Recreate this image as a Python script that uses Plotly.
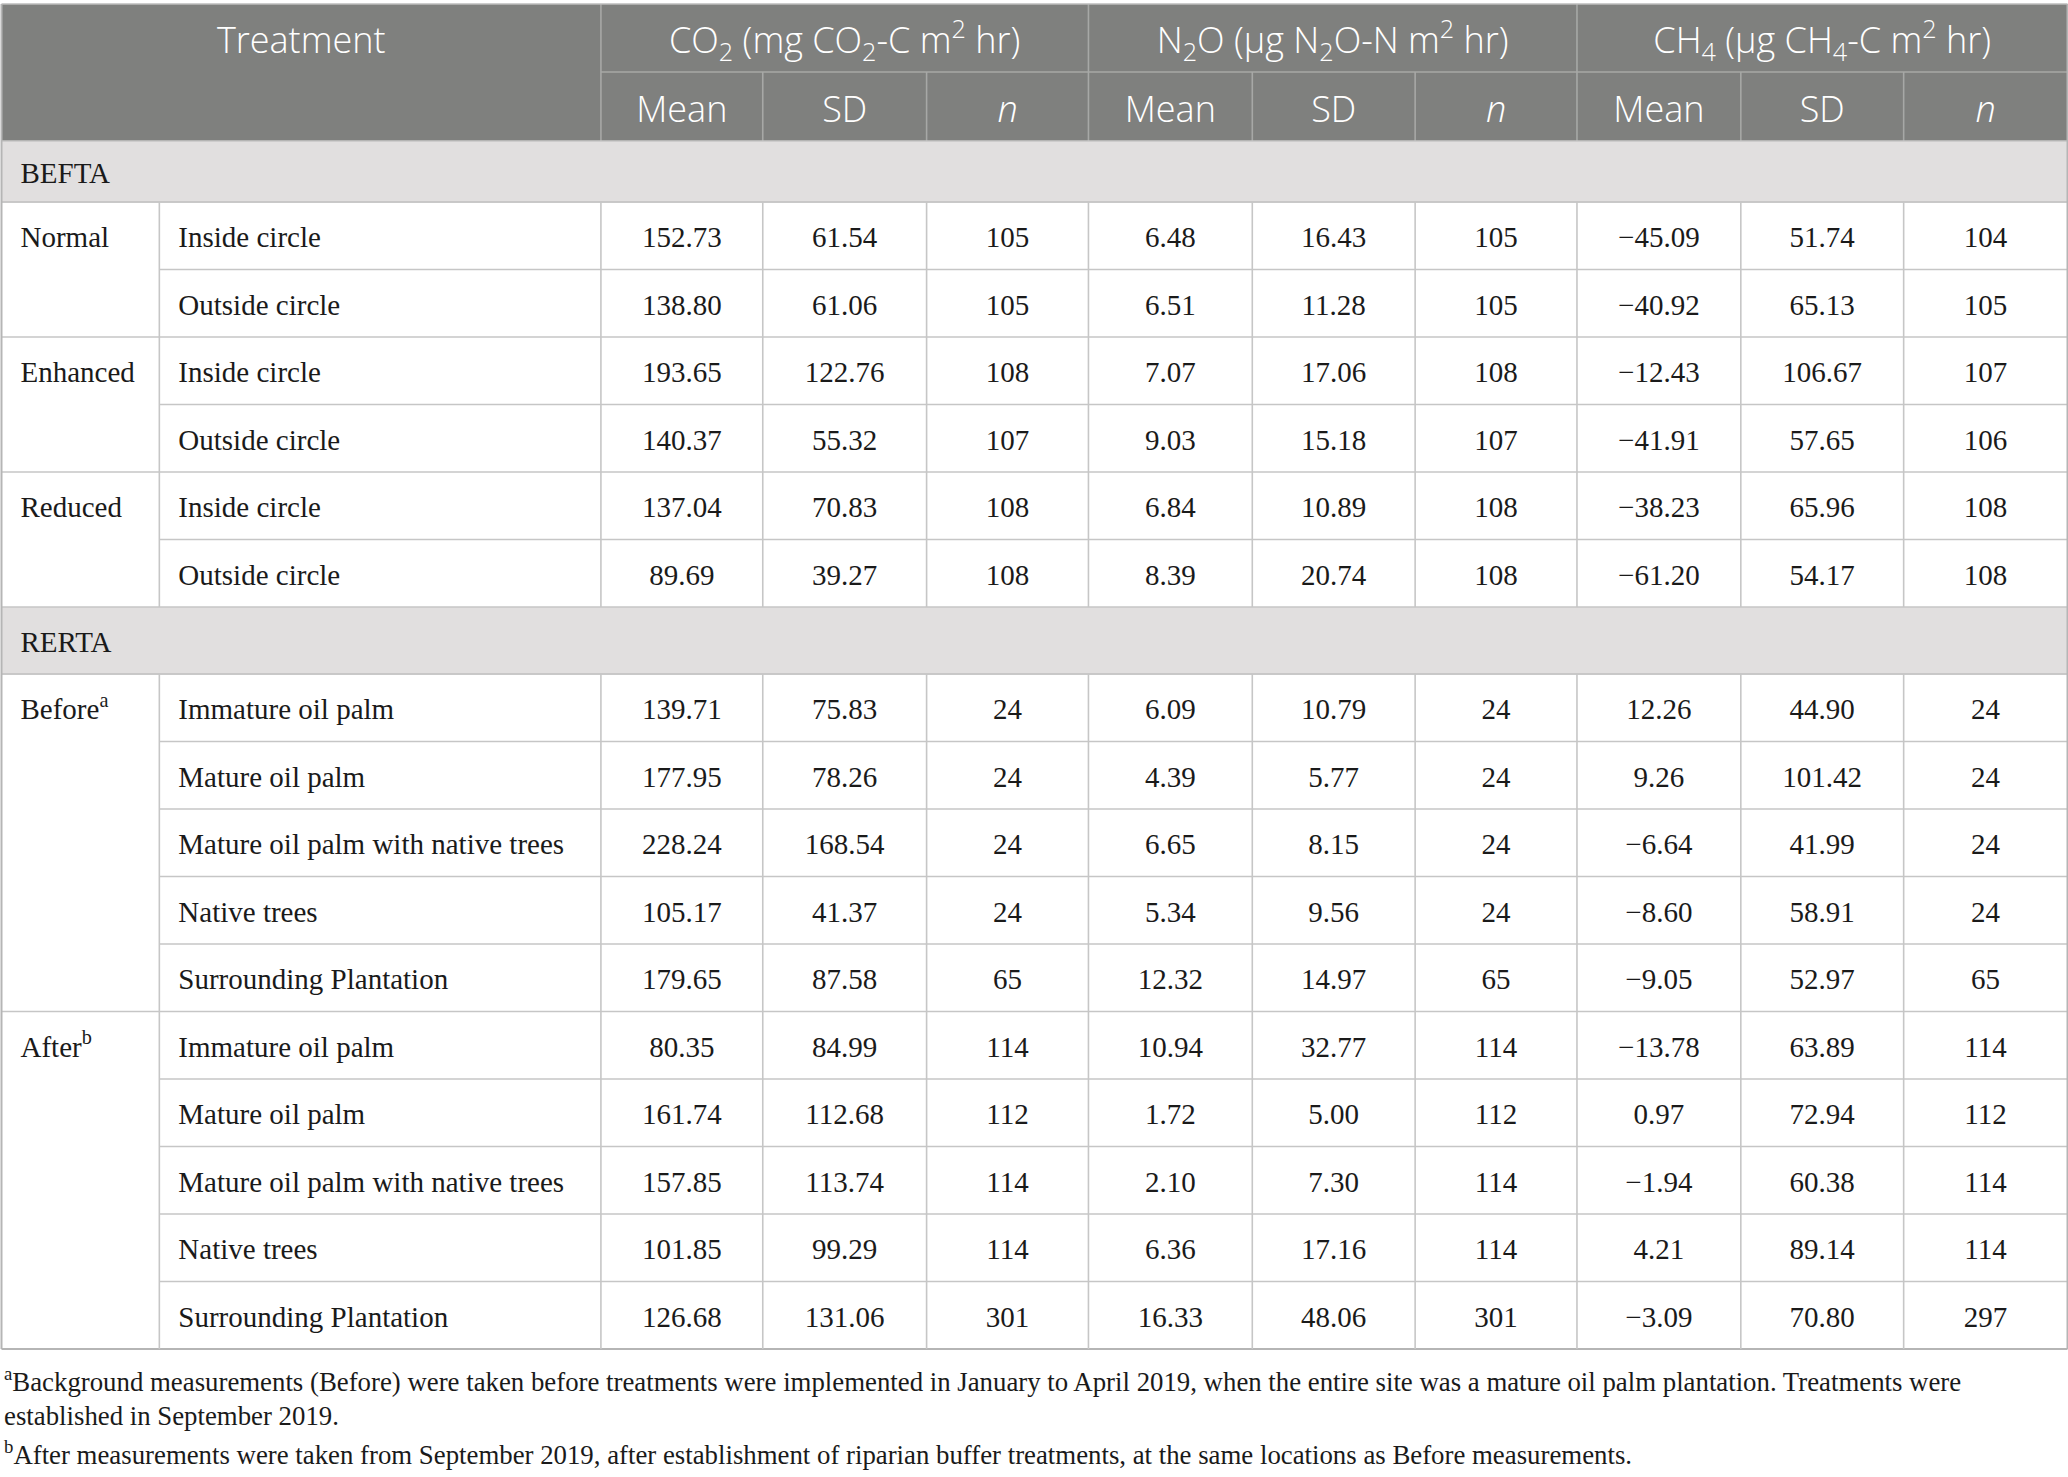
import plotly.graph_objects as go

# --- table data ---------------------------------------------------------
site_groups = ["BEFTA", "RERTA"]
treatments = (["Normal"] * 2 + ["Enhanced"] * 2 + ["Reduced"] * 2
              + ["Before<sup>a</sup>"] * 5 + ["After<sup>b</sup>"] * 5)
locations = ["Inside circle", "Outside circle", "Inside circle", "Outside circle",
             "Inside circle", "Outside circle",
             "Immature oil palm", "Mature oil palm", "Mature oil palm with native trees",
             "Native trees", "Surrounding Plantation",
             "Immature oil palm", "Mature oil palm", "Mature oil palm with native trees",
             "Native trees", "Surrounding Plantation"]
row_site = ["BEFTA"] * 6 + ["RERTA"] * 10

co2_mean = [152.73, 138.80, 193.65, 140.37, 137.04, 89.69,
            139.71, 177.95, 228.24, 105.17, 179.65,
            80.35, 161.74, 157.85, 101.85, 126.68]
co2_sd = [61.54, 61.06, 122.76, 55.32, 70.83, 39.27,
          75.83, 78.26, 168.54, 41.37, 87.58,
          84.99, 112.68, 113.74, 99.29, 131.06]
co2_n = [105, 105, 108, 107, 108, 108, 24, 24, 24, 24, 65, 114, 112, 114, 114, 301]

n2o_mean = [6.48, 6.51, 7.07, 9.03, 6.84, 8.39,
            6.09, 4.39, 6.65, 5.34, 12.32,
            10.94, 1.72, 2.10, 6.36, 16.33]
n2o_sd = [16.43, 11.28, 17.06, 15.18, 10.89, 20.74,
          10.79, 5.77, 8.15, 9.56, 14.97,
          32.77, 5.00, 7.30, 17.16, 48.06]
n2o_n = [105, 105, 108, 107, 108, 108, 24, 24, 24, 24, 65, 114, 112, 114, 114, 301]

ch4_mean = [-45.09, -40.92, -12.43, -41.91, -38.23, -61.20,
            12.26, 9.26, -6.64, -8.60, -9.05,
            -13.78, 0.97, -1.94, 4.21, -3.09]
ch4_sd = [51.74, 65.13, 106.67, 57.65, 65.96, 54.17,
          44.90, 101.42, 41.99, 58.91, 52.97,
          63.89, 72.94, 60.38, 89.14, 70.80]
ch4_n = [104, 105, 107, 106, 108, 108, 24, 24, 24, 24, 65, 114, 112, 114, 114, 297]

gas_headers = ["CO<sub>2</sub> (mg CO<sub>2</sub>-C m<sup>2</sup> hr)",
               "N<sub>2</sub>O (\u00b5g N<sub>2</sub>O-N m<sup>2</sup> hr)",
               "CH<sub>4</sub> (\u00b5g CH<sub>4</sub>-C m<sup>2</sup> hr)"]
stat_headers = ["Mean", "SD", "<i>n</i>"]

footnotes = [
    "<sup>a</sup>Background measurements (Before) were taken before treatments were implemented in "
    "January to April 2019, when the entire site was a mature oil palm plantation. Treatments were",
    "established in September 2019.",
    "<sup>b</sup>After measurements were taken from September 2019, after establishment of riparian "
    "buffer treatments, at the same locations as Before measurements.",
]

# --- geometry / style ---------------------------------------------------
W, H = 2068, 1477
col_edges = [0, 158, 600, 762, 926, 1088, 1252, 1415, 1577, 1741, 1904, 2068]
TOP = 4
HEAD_H = [68, 69]
GROUP_H = {"BEFTA": 61, "RERTA": 67}
ROW_H = 67.5
PAD = 19
TEXT_DY = 4      # nudge body text down to sit on the row centre
HEAD_DY = 6

HEAD_BG = "#7f807e"
HEAD_LINE = "#a7a8a6"
GROUP_BG = "#e1dfdf"
GRID = "#c6c6c6"
TEXT = "#1a1a1a"
SERIF = "Liberation Serif"
SANS = "Open Sans"
BODY_SIZE = 29
HEAD_SIZE = 36
FOOT_SIZE = 26.8


def fmt(v, dec=2):
    s = f"{abs(v):.{dec}f}"
    return ("\u2212" + s) if v < 0 else s


numeric_cols = [
    [fmt(v) for v in co2_mean], [fmt(v) for v in co2_sd], [str(v) for v in co2_n],
    [fmt(v) for v in n2o_mean], [fmt(v) for v in n2o_sd], [str(v) for v in n2o_n],
    [fmt(v) for v in ch4_mean], [fmt(v) for v in ch4_sd], [str(v) for v in ch4_n],
]

# walk the rows to get vertical positions
head_y = [TOP, TOP + HEAD_H[0], TOP + HEAD_H[0] + HEAD_H[1]]
y = head_y[-1]
group_rows = []   # (name, top, bottom)
data_rows = []    # (top, bottom)
for site in site_groups:
    group_rows.append((site, y, y + GROUP_H[site]))
    y += GROUP_H[site]
    for s in row_site:
        if s == site:
            data_rows.append((y, y + ROW_H))
            y += ROW_H
table_bottom = y

shapes = []


def line(x0, y0, x1, y1, color=GRID, width=1.6):
    shapes.append(dict(type="line", xref="x", yref="y", x0=x0, y0=y0, x1=x1, y1=y1,
                       line=dict(color=color, width=width), layer="above"))


def block_start(i):
    return i == 0 or treatments[i] != treatments[i - 1] or row_site[i] != row_site[i - 1]


def mid(a, b, dy=TEXT_DY):
    return (a + b) / 2 + dy


# header block
shapes.append(dict(type="rect", xref="x", yref="y", x0=col_edges[0], x1=col_edges[-1],
                   y0=head_y[0], y1=head_y[2], fillcolor=HEAD_BG, line=dict(width=0),
                   layer="below"))
for gx in (col_edges[2], col_edges[5], col_edges[8]):
    line(gx, head_y[0], gx, head_y[2], HEAD_LINE)
for sx in (col_edges[3], col_edges[4], col_edges[6], col_edges[7], col_edges[9], col_edges[10]):
    line(sx, head_y[1], sx, head_y[2], HEAD_LINE)
line(col_edges[2], head_y[1], col_edges[-1], head_y[1], HEAD_LINE)
line(col_edges[0], head_y[0], col_edges[-1], head_y[0], "#bdbdbd")

# group rows
for name, g0, g1 in group_rows:
    shapes.append(dict(type="rect", xref="x", yref="y", x0=col_edges[0], x1=col_edges[-1],
                       y0=g0, y1=g1, fillcolor=GROUP_BG, line=dict(width=0), layer="below"))
    line(col_edges[0], g0, col_edges[-1], g0)
    line(col_edges[0], g1, col_edges[-1], g1)

# data row lines
for i, (r0, r1) in enumerate(data_rows):
    line(col_edges[0] if block_start(i) else col_edges[1], r0, col_edges[-1], r0)
line(col_edges[0], table_bottom, col_edges[-1], table_bottom, "#b5b5b5", 2.2)

# vertical lines in each body segment
for name, g0, g1 in group_rows:
    seg_rows = [r for r, s in zip(data_rows, row_site) if s == name]
    s0, s1 = seg_rows[0][0], seg_rows[-1][1]
    for ex in col_edges[1:-1]:
        line(ex, s0, ex, s1)
# outer border
line(col_edges[0], head_y[0], col_edges[0], table_bottom, "#b5b5b5", 2)
line(col_edges[-1], head_y[0], col_edges[-1], table_bottom, "#b5b5b5", 2)

fig = go.Figure()

# header text
centers = [(col_edges[j] + col_edges[j + 1]) / 2 for j in range(len(col_edges) - 1)]
fig.add_trace(go.Scatter(
    x=[(col_edges[0] + col_edges[2]) / 2] + [(col_edges[2 + 3 * g] + col_edges[5 + 3 * g]) / 2 for g in range(3)],
    y=[mid(head_y[0], head_y[1], HEAD_DY)] * 4,
    text=["Treatment"] + gas_headers,
    mode="text", textposition="middle center",
    textfont=dict(family=SANS, size=HEAD_SIZE, color="white", weight=300), hoverinfo="skip"))
fig.add_trace(go.Scatter(
    x=centers[2:], y=[mid(head_y[1], head_y[2], HEAD_DY)] * 9,
    text=stat_headers * 3,
    mode="text", textposition="middle center",
    textfont=dict(family=SANS, size=HEAD_SIZE, color="white", weight=300), hoverinfo="skip"))

# group labels
fig.add_trace(go.Scatter(
    x=[col_edges[0] + PAD] * len(group_rows),
    y=[mid(g0, g1) for _, g0, g1 in group_rows],
    text=[g[0] for g in group_rows],
    mode="text", textposition="middle right",
    textfont=dict(family=SERIF, size=BODY_SIZE, color=TEXT), hoverinfo="skip"))

# treatment labels (first row of each block)
tx, ty, tt = [], [], []
for i, (r0, r1) in enumerate(data_rows):
    if block_start(i):
        tx.append(col_edges[0] + PAD)
        ty.append(mid(r0, r1))
        tt.append(treatments[i])
fig.add_trace(go.Scatter(
    x=tx, y=ty, text=tt, mode="text", textposition="middle right",
    textfont=dict(family=SERIF, size=BODY_SIZE, color=TEXT), hoverinfo="skip"))

# location labels
fig.add_trace(go.Scatter(
    x=[col_edges[1] + PAD] * len(locations),
    y=[mid(r0, r1) for r0, r1 in data_rows],
    text=locations, mode="text", textposition="middle right",
    textfont=dict(family=SERIF, size=BODY_SIZE, color=TEXT), hoverinfo="skip"))

# numeric cells
nx, ny, nt = [], [], []
for j, col in enumerate(numeric_cols):
    for i, val in enumerate(col):
        nx.append(centers[j + 2])
        ny.append(mid(*data_rows[i]))
        nt.append(val)
fig.add_trace(go.Scatter(
    x=nx, y=ny, text=nt, mode="text", textposition="middle center",
    textfont=dict(family=SERIF, size=BODY_SIZE, color=TEXT), hoverinfo="skip"))

# footnotes
foot_y = [1380, 1416, 1453]
for txt, fy in zip(footnotes, foot_y):
    fig.add_annotation(x=0, y=fy, xref="x", yref="y", text=txt, showarrow=False,
                       xanchor="left", yanchor="middle",
                       font=dict(family=SERIF, size=FOOT_SIZE, color=TEXT))

fig.update_layout(
    width=W, height=H,
    margin=dict(l=0, r=0, t=0, b=0),
    paper_bgcolor="white", plot_bgcolor="white",
    showlegend=False,
    shapes=shapes,
    xaxis=dict(range=[-1.5, W + 0.5], visible=False, fixedrange=True),
    yaxis=dict(range=[H, 0], visible=False, fixedrange=True),
)

# page body has a default margin; drop it so the figure fills the window
fig.write_html("out.html", config={"displayModeBar": False},
               post_script="document.body.style.margin='0';document.body.style.overflow='hidden';")
